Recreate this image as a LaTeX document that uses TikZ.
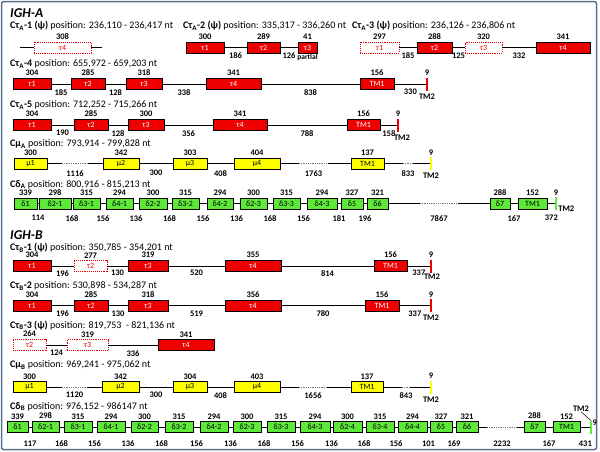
\documentclass[tikz,border=0pt]{standalone}
\usepackage{fontspec}
\setmainfont{Carlito}
\definecolor{igred}{HTML}{EE0000}
\definecolor{igyellow}{HTML}{FFFF00}
\definecolor{iggreen}{HTML}{5EE83A}
\definecolor{frameblue}{HTML}{56728F}
\tikzset{
  num/.style={font=\bfseries\fontsize{8.5}{9}\selectfont, text=black, inner sep=0.3pt},
  every label/.style={num},
  label distance=1.5pt,
  exon/.style={draw=black, line width=0.9pt, minimum height=11pt, inner sep=0pt,
    font=\fontsize{8}{8}\selectfont, minimum width=#1},
  tau/.style={exon=#1, fill=igred, text=white},
  tps/.style={exon=#1, draw=igred, densely dotted, fill=white, text=igred},
  mu/.style={exon=#1, fill=igyellow},
  del/.style={exon=#1, fill=iggreen},
  tmtwo/.style={fill=#1, minimum width=1.5pt, minimum height=13pt, inner sep=0pt, outer sep=0pt},
  con/.style={line width=0.8pt},
  gapdot/.style={line width=0.8pt, densely dotted, black!55},
  intron/.style={num, below=#1},
  intron/.default=4.5pt,
  tmlab/.style={label={[label distance=2.5pt]below:TM2}},
  head/.style={anchor=base west, inner sep=0pt, font=\fontsize{10}{12}\selectfont},
  title/.style={anchor=base west, inner sep=0pt, font=\bfseries\itshape\fontsize{13.5}{15}\selectfont},
}
\begin{document}
\begin{tikzpicture}[x=1pt,y=-1pt]
  \useasboundingbox (0,0) rectangle (600,451);
  \draw[frameblue, line width=1.5pt, rounded corners=2pt] (1.5,1.5) rectangle (596.5,449.5);

  % IGH-A
  \node[title] (igha) at (10,17.5) {IGH-A};

  % C tau A-1
  \node[head] (a1h) at (10,28.5) {\textbf{Cτ\textsubscript{A}-1 (ψ)} position: 236,110 - 236,417 nt};
  \coordinate (a1s) at (20,47.5);
  \coordinate (a1e) at (102,47.5);
  \node[tps=57, label=above:308] (a1t4) at (62.5,47.5) {τ4};
  \draw[con] (a1s) -- (a1t4) -- (a1e);

  % C tau A-2
  \node[head] (a2h) at (183,28.5) {\textbf{Cτ\textsubscript{A}-2 (ψ)} position: 335,317 - 336,260 nt};
  \node[tau=38, label=above:300] (a2t1) at (205,47.5) {τ1};
  \node[tau=33, label=above:289] (a2t2) at (263.5,47.5) {τ2};
  \node[tau=19, label=above:41, label={[label distance=0pt, font=\bfseries\fontsize{7.5}{8}\selectfont]below:partial}] (a2t3) at (307.5,47.5) {τ3};
  \draw[con] (a2t1) -- node[intron]{186} (a2t2) -- node[intron]{126} (a2t3);

  % C tau A-3
  \node[head] (a3h) at (352,28.5) {\textbf{Cτ\textsubscript{A}-3 (ψ)} position: 236,126 - 236,806 nt};
  \node[tps=39, label=above:297] (a3t1) at (379.5,47.5) {τ1};
  \node[tau=35, label=above:288] (a3t2) at (434.5,47.5) {τ2};
  \node[tps=37, label=above:320] (a3t3) at (483.5,47.5) {τ3};
  \node[tau=54, label=above:341] (a3t4) at (563,47.5) {τ4};
  \draw[con] (a3t1) -- node[intron]{185} (a3t2) -- node[intron]{125} (a3t3) -- node[intron]{332} (a3t4);

  % C tau A-4
  \node[head] (a4h) at (10,66.5) {\textbf{Cτ\textsubscript{A}-4} position: 655,972 - 659,203 nt};
  \node[tau=38, label=above:304] (a4t1) at (32,84) {τ1};
  \node[tau=34, label=above:285] (a4t2) at (88,84) {τ2};
  \node[tau=36, label=above:318] (a4t3) at (144,84) {τ3};
  \node[tau=55, label=above:341] (a4t4) at (233.5,84) {τ4};
  \node[tau=34, label=above:156] (a4tm1) at (377,84) {TM1};
  \node[tmtwo=igred, label=above:9, tmlab] (a4tm2) at (427,84) {};
  \draw[con] (a4t1) -- node[intron]{185} (a4t2) -- node[intron]{128} (a4t3) -- node[intron]{338} (a4t4)
    -- node[intron]{838} (a4tm1) -- node[intron]{330} (a4tm2);

  % C tau A-5
  \node[head] (a5h) at (10,107.5) {\textbf{Cτ\textsubscript{A}-5} position: 712,252 - 715,266 nt};
  \node[tau=38, label=above:304] (a5t1) at (32,125) {τ1};
  \node[tau=34, label=above:285] (a5t2) at (91,125) {τ2};
  \node[tau=36, label=above:300] (a5t3) at (146,125) {τ3};
  \node[tau=54, label=above:341] (a5t4) at (240,125) {τ4};
  \node[tau=33, label=above:156] (a5tm1) at (363.5,125) {TM1};
  \node[tmtwo=igred, label=above:9, label={[label distance=2.5pt, xshift=4pt]below:TM2}] (a5tm2) at (398,125) {};
  \draw[con] (a5t1) -- node[intron]{190} (a5t2) -- node[intron]{128} (a5t3) -- node[intron]{356} (a5t4)
    -- node[intron]{788} (a5tm1) -- node[intron]{158} (a5tm2);

  % C mu A
  \node[head] (amh) at (10,146.5) {\textbf{Cμ\textsubscript{A}} position: 793,914 - 799,828 nt};
  \node[mu=33, label=above:300] (amu1) at (30.5,163.5) {μ1};
  \node[mu=36, label=above:342] (amu2) at (121,163.5) {μ2};
  \node[mu=34, label=above:303] (amu3) at (190,163.5) {μ3};
  \node[mu=46, label=above:404] (amu4) at (257,163.5) {μ4};
  \node[mu=33, label=above:137] (amtm1) at (367.5,163.5) {TM1};
  \node[tmtwo=igyellow, label=above:9, tmlab] (amtm2) at (431,163.5) {};
  \coordinate (amg1) at (62,163.5);
  \coordinate (amg2) at (88,163.5);
  \coordinate (amg3) at (299,163.5);
  \coordinate (amg4) at (328,163.5);
  \coordinate (amg5) at (403,163.5);
  \coordinate (amg6) at (413,163.5);
  \draw[con] (amu1) -- (amg1);
  \draw[gapdot] (amg1) -- node[intron=6pt]{1116} (amg2);
  \draw[con] (amg2) -- (amu2) -- node[intron=6pt]{300} (amu3) -- node[intron=6pt]{408} (amu4) -- (amg3);
  \draw[gapdot] (amg3) -- node[intron=6pt]{1763} (amg4);
  \draw[con] (amg4) -- (amtm1) -- (amg5);
  \draw[gapdot] (amg5) -- node[intron=6pt]{833} (amg6);
  \draw[con] (amg6) -- (amtm2);

  % C delta A
  \node[head] (adh) at (10,187) {\textbf{Cδ\textsubscript{A}} position: 800,916 - 815,213 nt};
  \node[del=23, label=above:339] (ad1) at (25.5,203.5) {δ1};
  \node[del=32, label=above:298] (ad21) at (55,203.5) {δ2-1};
  \node[del=27, label=above:315] (ad31) at (86.5,203.5) {δ3-1};
  \node[del=27, label=above:294] (ad41) at (119.5,203.5) {δ4-1};
  \node[del=28, label=above:300] (ad22) at (153,203.5) {δ2-2};
  \node[del=27, label=above:315] (ad32) at (185.5,203.5) {δ3-2};
  \node[del=26, label=above:294] (ad42) at (220,203.5) {δ4-2};
  \node[del=27, label=above:300] (ad23) at (253.5,203.5) {δ2-3};
  \node[del=27, label=above:315] (ad33) at (286.5,203.5) {δ3-3};
  \node[del=30, label=above:294] (ad43) at (322,203.5) {δ4-3};
  \node[del=22, label=above:327] (ad5) at (352,203.5) {δ5};
  \node[del=21, label=above:321] (ad6) at (377.5,203.5) {δ6};
  \node[del=20, label=above:288] (ad7) at (500,203.5) {δ7};
  \node[del=29, label=above:152] (adtm1) at (532.5,203.5) {TM1};
  \node[tmtwo=iggreen, label=above:9, label=below right:TM2] (adtm2) at (556,203.5) {};
  \coordinate (adg1) at (420,203.5);
  \coordinate (adg2) at (458,203.5);
  \draw[con] (ad1) -- node[intron=11pt]{114} (ad21) -- node[intron=11pt]{168} (ad31) -- node[intron=11pt]{156} (ad41)
    -- node[intron=11pt]{136} (ad22) -- node[intron=11pt]{168} (ad32) -- node[intron=11pt]{156} (ad42)
    -- node[intron=11pt]{136} (ad23) -- node[intron=11pt]{168} (ad33) -- node[intron=11pt]{156} (ad43)
    -- node[intron=11pt]{181} (ad5) -- node[intron=11pt]{196} (ad6) -- (adg1);
  \draw[gapdot] (adg1) -- node[intron=11pt]{7867} (adg2);
  \draw[con] (adg2) -- (ad7) -- node[intron=11pt]{167} (adtm1) -- node[intron=11pt]{372} (adtm2);

  % IGH-B
  \node[title] (ighb) at (10,239.5) {IGH-B};

  % C tau B-1
  \node[head] (b1h) at (10,250.5) {\textbf{Cτ\textsubscript{B}-1 (ψ)} position: 350,785 - 354,201 nt};
  \node[tau=38, label=above:304] (b1t1) at (32,266) {τ1};
  \node[tps=33, label=above:277] (b1t2) at (90.5,266) {τ2};
  \node[tau=40, label=above:319] (b1t3) at (148,266) {τ3};
  \node[tau=56, label=above:355] (b1t4) at (253,266) {τ4};
  \node[tau=33, label=above:156] (b1tm1) at (390.5,266) {TM1};
  \node[tmtwo=igred, label=above:9, label={[label distance=1pt, xshift=1pt]below:TM2}] (b1tm2) at (431,266) {};
  \draw[con] (b1t1) -- node[intron=3.5pt]{196} (b1t2) -- node[intron=3.5pt]{130} (b1t3) -- node[intron=3.5pt]{520} (b1t4)
    -- node[intron=3.5pt]{814} (b1tm1) -- node[intron=3.5pt]{337} (b1tm2);

  % C tau B-2
  \node[head] (b2h) at (10,288.5) {\textbf{Cτ\textsubscript{B}-2} position: 530,898 - 534,287 nt};
  \node[tau=38, label=above:304] (b2t1) at (32,305.5) {τ1};
  \node[tau=34, label=above:285] (b2t2) at (91,305.5) {τ2};
  \node[tau=40, label=above:318] (b2t3) at (148,305.5) {τ3};
  \node[tau=56, label=above:356] (b2t4) at (253,305.5) {τ4};
  \node[tau=34, label=above:156] (b2tm1) at (382,305.5) {TM1};
  \node[tmtwo=igred, label=above:9, label={[label distance=2pt]below:TM2}] (b2tm2) at (431,305.5) {};
  \draw[con] (b2t1) -- node[intron]{196} (b2t2) -- node[intron]{130} (b2t3) -- node[intron]{519} (b2t4)
    -- node[intron]{780} (b2tm1) -- node[intron]{337} (b2tm2);

  % C tau B-3
  \node[head] (b3h) at (10,328) {\textbf{Cτ\textsubscript{B}-3 (ψ)} position: 819,753\ \ - 821,136 nt};
  \node[tps=33, label=above:264] (b3t2) at (29.5,345) {τ2};
  \node[tps=41, label=above:319] (b3t3) at (87.5,345) {τ3};
  \node[tau=56, label=above:341] (b3t4) at (186,345) {τ4};
  \draw[con] (b3t2) -- node[intron]{124} (b3t3) -- node[intron]{336} (b3t4);

  % C mu B
  \node[head] (bmh) at (10,367.5) {\textbf{Cμ\textsubscript{B}} position: 969,241 - 975,062 nt};
  \node[mu=33, label=above:300] (bmu1) at (29.5,387) {μ1};
  \node[mu=37, label=above:342] (bmu2) at (120.5,387) {μ2};
  \node[mu=34, label=above:304] (bmu3) at (190,387) {μ3};
  \node[mu=46, label=above:403] (bmu4) at (257,387) {μ4};
  \node[mu=32, label=above:137] (bmtm1) at (367,387) {TM1};
  \node[tmtwo=igyellow, label=above:9, tmlab] (bmtm2) at (431,387) {};
  \coordinate (bmg1) at (62,387);
  \coordinate (bmg2) at (87,387);
  \coordinate (bmg3) at (299,387);
  \coordinate (bmg4) at (327,387);
  \coordinate (bmg5) at (402,387);
  \coordinate (bmg6) at (410,387);
  \draw[con] (bmu1) -- (bmg1);
  \draw[gapdot] (bmg1) -- node[intron]{1120} (bmg2);
  \draw[con] (bmg2) -- (bmu2) -- node[intron]{300} (bmu3) -- node[intron]{408} (bmu4) -- (bmg3);
  \draw[gapdot] (bmg3) -- node[intron]{1656} (bmg4);
  \draw[con] (bmg4) -- (bmtm1) -- (bmg5);
  \draw[gapdot] (bmg5) -- node[intron]{843} (bmg6);
  \draw[con] (bmg6) -- (bmtm2);

  % C delta B
  \node[head] (bdh) at (10,409) {\textbf{Cδ\textsubscript{B}} position: 976,152 - 986147 nt};
  \node[del=21, label=above:339] (bd1) at (17.5,427) {δ1};
  \node[del=27, label=above:298] (bd21) at (45.5,427) {δ2-1};
  \node[del=28, label=above:315] (bd31) at (78,427) {δ3-1};
  \node[del=28, label=above:294] (bd41) at (111,427) {δ4-1};
  \node[del=27, label=above:300] (bd22) at (144.5,427) {δ2-2};
  \node[del=28, label=above:315] (bd32) at (179,427) {δ3-2};
  \node[del=28, label=above:294] (bd42) at (214,427) {δ4-2};
  \node[del=28, label=above:300] (bd23) at (247,427) {δ2-3};
  \node[del=28, label=above:315] (bd33) at (281,427) {δ3-3};
  \node[del=30, label=above:294] (bd43) at (315,427) {δ4-3};
  \node[del=29, label=above:300] (bd24) at (347.5,427) {δ2-4};
  \node[del=28, label=above:315] (bd34) at (380,427) {δ3-4};
  \node[del=29, label=above:294] (bd44) at (412.5,427) {δ4-4};
  \node[del=22, label=above:327] (bd5) at (441,427) {δ5};
  \node[del=22, label=above:321] (bd6) at (467,427) {δ6};
  \node[del=21, label=above:288] (bd7) at (534.5,427) {δ7};
  \node[del=27, label=above:152] (bdtm1) at (566.5,427) {TM1};
  \node[tmtwo=iggreen, label={[label distance=0.5pt]above right:9}] (bdtm2) at (591,427) {};
  \node[num] (bdtmlab) at (581,408.5) {TM2};
  \draw[line width=0.5pt] (bdtmlab.south) -- (bdtm2.north);
  \coordinate (bdg1) at (487,427);
  \coordinate (bdg2) at (517,427);
  \draw[con] (bd1) -- node[intron=13pt]{117} (bd21) -- node[intron=13pt]{168} (bd31) -- node[intron=13pt]{156} (bd41)
    -- node[intron=13pt]{136} (bd22) -- node[intron=13pt]{168} (bd32) -- node[intron=13pt]{156} (bd42)
    -- node[intron=13pt]{136} (bd23) -- node[intron=13pt]{168} (bd33) -- node[intron=13pt]{156} (bd43)
    -- node[intron=13pt]{136} (bd24) -- node[intron=13pt]{168} (bd34) -- node[intron=13pt]{156} (bd44)
    -- node[intron=13pt]{101} (bd5) -- node[intron=13pt]{169} (bd6) -- (bdg1);
  \draw[gapdot] (bdg1) -- node[intron=13pt]{2232} (bdg2);
  \draw[con] (bdg2) -- (bd7) -- node[intron=13pt]{167} (bdtm1) -- node[intron=13pt]{431} (bdtm2);
\end{tikzpicture}
\end{document}
